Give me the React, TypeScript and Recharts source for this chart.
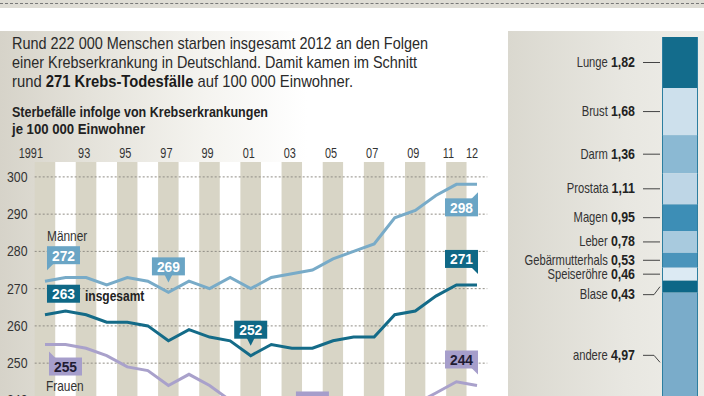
import React from 'react';
import {
  LineChart, Line, XAxis, YAxis, ReferenceArea, ReferenceLine,
  BarChart, Bar,
} from 'recharts';

const SANS = '"Liberation Sans", Arial, sans-serif';

// ---------- data ----------
const years = [1991, 1992, 1993, 1994, 1995, 1996, 1997, 1998, 1999, 2000, 2001, 2002, 2003, 2004, 2005, 2006, 2007, 2008, 2009, 2010, 2011, 2012];
const maenner = [272, 273, 273, 271, 273, 272, 269, 272, 270, 273, 270, 273, 274, 275, 278, 280, 282, 289, 291, 295, 298, 298];
const insgesamt = [263, 264, 263, 261, 261, 260, 256, 259, 257, 256, 252, 255, 254, 254, 256, 257, 257, 263, 264, 268, 271, 271];
const frauen = [255, 255, 254, 252, 249, 248, 244, 247, 244, 240, 238, 236, 235, 233, 234, 235, 235, 237, 239, 242, 245, 244];

const xTicks = [1991, 1993, 1995, 1997, 1999, 2001, 2003, 2005, 2007, 2009, 2011, 2012];
const yTicks = [230, 240, 250, 260, 270, 280, 290, 300];

const cancerTypes = ['Lunge', 'Brust', 'Darm', 'Prostata', 'Magen', 'Leber', 'Gebärmutterhals', 'Speiseröhre', 'Blase', 'andere'];
const cancerValues = [1.82, 1.68, 1.36, 1.11, 0.95, 0.78, 0.53, 0.46, 0.43, 4.97];

const callouts = [
  { series: 'maenner', year: 1991, place: 'ur', caption: 'Männer' },
  { series: 'maenner', year: 1997, place: 'u' },
  { series: 'maenner', year: 2012, place: 'dl' },
  { series: 'insgesamt', year: 1991, place: 'r', caption: 'insgesamt' },
  { series: 'insgesamt', year: 2001, place: 'u' },
  { series: 'insgesamt', year: 2012, place: 'ul' },
  { series: 'frauen', year: 1991, place: 'dr', caption: 'Frauen' },
  { series: 'frauen', year: 2004, place: 'u' },
  { series: 'frauen', year: 2012, place: 'ul' },
];

// ---------- styles ----------
const seriesStyle: Record<string, { line: string; box: string; text: string }> = {
  maenner: { line: '#78abc8', box: '#6aa5c5', text: '#ffffff' },
  insgesamt: { line: '#146b88', box: '#0f6886', text: '#ffffff' },
  frauen: { line: '#a9a1cb', box: '#a69ecb', text: '#1f1b33' },
};
const cancerColors = ['#136c8c', '#cde0ec', '#8bb9d3', '#bed6e6', '#3d8eb6', '#a8cade', '#4a94bb', '#dceaf3', '#0d6787', '#7aacca'];
const labelShift: Record<string, number> = { Blase: 8, andere: -7 };

const lineData = years.map((year, i) => ({ year, maenner: maenner[i], insgesamt: insgesamt[i], frauen: frauen[i] }));
const barRow: Record<string, any> = { cat: 'Krebs' };
cancerTypes.forEach((t, i) => { barRow[t] = cancerValues[i]; });
const barData = [barRow];
const total = cancerValues.reduce((a, b) => a + b, 0);

const fmt = (v: number) => v.toFixed(2).replace('.', ',');

// narrow text: Liberation Sans squeezed horizontally
const NText = ({ x, y, sx = 0.8, anchor = 'start', size = 14, weight = 'normal', fill = '#333', children }: any) => (
  <text
    transform={`translate(${x},${y}) scale(${sx},1)`}
    textAnchor={anchor} fontFamily={SANS} fontSize={size} fontWeight={weight} fill={fill}
  >
    {children}
  </text>
);

const makeDot = (key: string) => (props: any) => {
  const { cx, cy, index } = props;
  const year = years[index];
  const c = callouts.find((k) => k.series === key && k.year === year);
  if (!c || cx == null || cy == null) return <g key={`d-${key}-${index}`} />;
  const st = seriesStyle[key];
  const w = 33, h = 18;
  let bx = 0, by = 0;
  let tri: string | null = null;
  switch (c.place) {
    case 'ur':
      bx = cx + 2; by = cy - 17 - h;
      tri = `${bx},${by + h - 1} ${bx + 7},${by + h - 1} ${bx},${by + h + 6}`;
      break;
    case 'r':
      bx = cx + 2; by = cy - 12 - h;
      break;
    case 'u':
      bx = cx - w / 2; by = cy - 17 - h;
      tri = `${cx - 4},${by + h - 1} ${cx + 4},${by + h - 1} ${cx},${by + h + 7}`;
      break;
    case 'ul':
      bx = cx - w + 1; by = cy - 17 - h;
      tri = `${bx + w - 7},${by + h - 1} ${bx + w},${by + h - 1} ${bx + w},${by + h + 6}`;
      break;
    case 'dl':
      bx = cx - w + 1; by = cy + 14;
      tri = `${bx + w - 7},${by + 1} ${bx + w},${by + 1} ${bx + w},${by - 6}`;
      break;
    case 'dr':
      bx = cx + 4; by = cy + 13;
      tri = `${bx},${by + 1} ${bx + 7},${by + 1} ${bx},${by - 6}`;
      break;
  }
  const raw = props.value ?? props.payload?.[key];
  const value = Array.isArray(raw) ? raw[1] : raw;
  return (
    <g key={`d-${key}-${index}`}>
      <rect x={bx} y={by} width={w} height={h} fill={st.box} />
      {tri && <polygon points={tri} fill={st.box} />}
      <NText x={bx + w / 2} y={by + h - 3.5} anchor="middle" sx={0.92} size={15} weight="bold" fill={st.text}>{value}</NText>
      {c.caption && key === 'maenner' && (
        <NText x={bx} y={by - 5} sx={0.85} size={14} fill="#333">{c.caption}</NText>
      )}
      {c.caption && key === 'insgesamt' && (
        <NText x={bx + w + 5} y={by + h - 2} sx={0.8} size={15} weight="bold" fill="#222">{c.caption}</NText>
      )}
      {c.caption && key === 'frauen' && (
        <NText x={bx - 3} y={by + h + 15} sx={0.85} size={14} fill="#333">{c.caption}</NText>
      )}
    </g>
  );
};

const XTick = (props: any) => {
  const { x, payload } = props;
  const v = payload.value as number;
  const label = v === 1991 ? '1991' : String(v).slice(2);
  let dx = -2;
  let anchor = 'middle';
  if (v === 1991) { anchor = 'end'; dx = -2; }
  if (v === 2011) dx = -8;
  if (v === 2012) dx = -5;
  return <NText x={x + dx} y={158} anchor={anchor} sx={0.78} size={14} fill="#333">{label}</NText>;
};

const YTick = (props: any) => {
  const { y, payload } = props;
  return <NText x={7} y={y + 5} anchor="start" sx={0.88} size={14} fill="#333">{payload.value}</NText>;
};

const makeShape = (i: number) => (props: any) => {
  let { x, y, width, height } = props;
  if (height < 0) { y = y + height; height = -height; }
  if (width < 0) { x = x + width; width = -width; }
  const name = cancerTypes[i];
  const cy = y + height / 2;
  const ly = cy + (labelShift[name] || 0);
  return (
    <g>
      <rect x={x} y={y} width={width} height={height} fill={cancerColors[i]} />
      <line x1={x + 0.5} y1={y} x2={x + 0.5} y2={y + height} stroke="#2c7ea0" strokeWidth={1} />
      <line x1={x + width - 0.5} y1={y} x2={x + width - 0.5} y2={y + height} stroke="#2c7ea0" strokeWidth={1} />
      <polyline points={`${x - 19},${ly} ${x - 8},${ly} ${x - 2},${cy}`} stroke="#444" strokeWidth={1} fill="none" />
      <text transform={`translate(${x - 27},${ly + 4.5}) scale(0.8,1)`} textAnchor="end" fontFamily={SANS} fill="#333">
        <tspan fontSize={14}>{name} </tspan>
        <tspan fontSize={15.5} fontWeight="bold" fill="#222">{fmt(cancerValues[i])}</tspan>
      </text>
    </g>
  );
};

export default function App() {
  return (
    <div style={{ position: 'fixed', left: 0, top: 0, width: 704, height: 396, overflow: 'hidden', background: '#ffffff' }}>
      {/* top strip */}
      <div style={{ position: 'absolute', left: 0, top: 0, width: 704, height: 8, background: '#dedcd4' }} />
      <div style={{ position: 'absolute', left: 0, top: 3, width: 704, height: 0, borderTop: '1px dashed #777' }} />
      {/* main panel */}
      <div style={{ position: 'absolute', left: 0, top: 31, width: 495, height: 365, background: 'linear-gradient(to right, #d6d3c9 0%, #e4e2da 18%, #f5f4f0 42%, #ffffff 62%)' }} />
      {/* right panel */}
      <div style={{ position: 'absolute', left: 508, top: 31, width: 196, height: 365, background: 'linear-gradient(to right, #dad8cf 0%, #e8e7e1 60%, #eeede8 100%)' }} />

      {/* header text */}
      <svg width={495} height={140} style={{ position: 'absolute', left: 0, top: 0 }}>
        <g fontFamily={SANS} fill="#2a2a2a">
          <text x={12} y={48.5} fontSize={17} textLength={416} lengthAdjust="spacingAndGlyphs">Rund 222 000 Menschen starben insgesamt 2012 an den Folgen</text>
          <text x={12} y={67.5} fontSize={17} textLength={405} lengthAdjust="spacingAndGlyphs">einer Krebserkrankung in Deutschland. Damit kamen im Schnitt</text>
          <text x={12} y={86.5} fontSize={17} textLength={341} lengthAdjust="spacingAndGlyphs">
            <tspan>rund </tspan>
            <tspan fontWeight="bold" fill="#1a1a1a">271 Krebs-Todesfälle</tspan>
            <tspan> auf 100 000 Einwohner.</tspan>
          </text>
          <text x={12} y={117} fontSize={14} fontWeight="bold" fill="#222" textLength={256} lengthAdjust="spacingAndGlyphs">Sterbefälle infolge von Krebserkrankungen</text>
          <text x={12} y={134} fontSize={14} fontWeight="bold" fill="#222" textLength={133} lengthAdjust="spacingAndGlyphs">je 100 000 Einwohner</text>
        </g>
      </svg>

      {/* line chart */}
      <div style={{ position: 'absolute', left: 0, top: 0 }}>
        <LineChart width={500} height={460} data={lineData} margin={{ top: 132, right: 12.7, bottom: 0, left: 0 }}>
          <XAxis
            dataKey="year" type="number" domain={[1990.5, 2012.5]} ticks={xTicks} interval={0}
            orientation="top" height={30} axisLine={false} tickLine={false} tick={<XTick />}
          />
          <YAxis
            type="number" domain={[224, 304]} ticks={yTicks} interval={0} width={34.7}
            axisLine={false} tickLine={false} tick={<YTick />}
          />
          {years.map((yr) => (
            <ReferenceArea
              key={`s-${yr}`} x1={yr - 0.5} x2={yr + 0.5}
              fill={yr % 2 === 1 ? '#d8d5c6' : '#ffffff'} fillOpacity={1} stroke="none" ifOverflow="visible"
            />
          ))}
          {yTicks.map((v) => (
            <ReferenceLine key={`g-${v}`} y={v} stroke="#8f8c84" strokeDasharray="2 2" strokeWidth={1} />
          ))}
          <Line type="linear" dataKey="frauen" stroke={seriesStyle.frauen.line} strokeWidth={3} dot={makeDot('frauen')} activeDot={false} isAnimationActive={false} />
          <Line type="linear" dataKey="maenner" stroke={seriesStyle.maenner.line} strokeWidth={3} dot={makeDot('maenner')} activeDot={false} isAnimationActive={false} />
          <Line type="linear" dataKey="insgesamt" stroke={seriesStyle.insgesamt.line} strokeWidth={3} dot={makeDot('insgesamt')} activeDot={false} isAnimationActive={false} />
        </LineChart>
      </div>

      {/* stacked bar */}
      <div style={{ position: 'absolute', left: 508, top: 0 }}>
        <BarChart width={196} height={432} data={barData} margin={{ top: 37, right: 6, bottom: 0, left: 154 }} barCategoryGap={0}>
          <XAxis dataKey="cat" hide />
          <YAxis type="number" domain={[0, total]} reversed hide />
          {cancerTypes.map((t, i) => (
            <Bar key={t} dataKey={t} stackId="a" fill={cancerColors[i]} shape={makeShape(i)} isAnimationActive={false} />
          ))}
        </BarChart>
      </div>
    </div>
  );
}
